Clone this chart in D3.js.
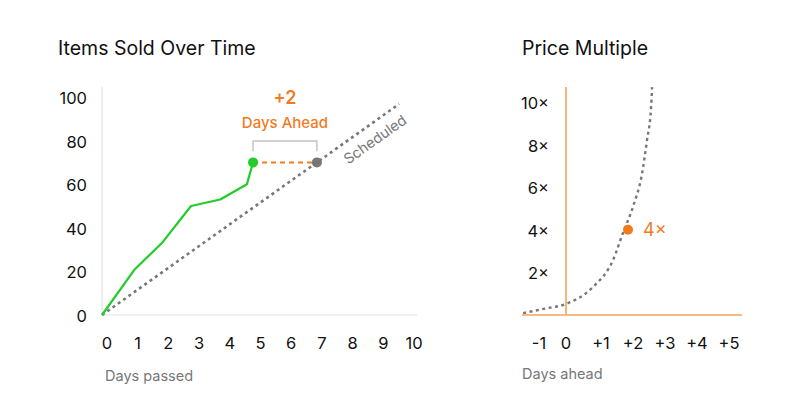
<!DOCTYPE html>
<html lang="en">
<head>
<meta charset="utf-8">
<title>Items Sold Over Time / Price Multiple</title>
<script src="https://cdn.jsdelivr.net/npm/d3@7"></script>
<style>
    body { margin: 0; background: #fff; font-family: Inter, "Noto Sans", sans-serif; }
    svg text { font-family: Inter, "Noto Sans", sans-serif; }
    .tick-label { font-size: 16.5px; fill: #111; }
    .axis-title { font-size: 14.5px; fill: #777; }
    .title { font-size: 19.5px; fill: #111; }
</style>
</head>
<body>
<svg id="chart" width="800" height="418"></svg>
<script>
    // ---- data ----
    var soldDays   = [0, 1.07, 1.95, 2.9, 3.85, 4.72, 4.92];
    var soldValues = [0, 21, 33, 50, 53, 60, 70];
    var schedDays   = [0, 9.68];
    var schedValues = [0, 96.8];
    var leftXTicks = [0, 1, 2, 3, 4, 5, 6, 7, 8, 9, 10];
    var leftYTicks = [0, 20, 40, 60, 80, 100];

    var curveDays  = [-1.34, -0.66, 0, 0.84, 1.47, 1.78, 2.09, 2.38, 2.53, 2.66, 2.69];
    var curveMult  = [0.09, 0.3, 0.52, 1.31, 2.58, 3.85, 5.07, 6.67, 8.2, 9.77, 10.7];
    var rightXTicks = [-1, 0, 1, 2, 3, 4, 5];
    var rightXLabels = ["-1", "0", "+1", "+2", "+3", "+4", "+5"];
    var rightYTicks = [2, 4, 6, 8, 10];

    var ahead = {from: 4.92, to: 7, value: 70, label: "+2"};
    var priceNow = {day: 2, mult: 4};

    var orange = "#f27b1f", green = "#22cc2b", grey = "#777";

    var svg = d3.select("#chart");

    // ================= left chart =================
    var x1 = d3.scaleLinear().domain([0, 10]).range([102, 409]);
    var y1 = d3.scaleLinear().domain([0, 100]).range([315, 97]);

    var left = svg.append("g");

    left.append("text").attr("class", "title")
        .attr("x", 58).attr("y", 55).text("Items Sold Over Time");

    // axis lines
    left.append("line").attr("x1", x1(0)).attr("x2", x1(0))
        .attr("y1", 87).attr("y2", y1(0))
        .attr("stroke", "#e2e2e2").attr("stroke-width", 1.2);
    left.append("line").attr("x1", x1(0)).attr("x2", 417)
        .attr("y1", y1(0)).attr("y2", y1(0))
        .attr("stroke", "#e2e2e2").attr("stroke-width", 1.2);

    left.append("g").selectAll("text")
        .data(leftYTicks).enter().append("text")
        .attr("class", "tick-label")
        .attr("x", 87).attr("y", function (d) { return y1(d) + 1; })
        .attr("dy", "0.36em").attr("text-anchor", "end")
        .text(function (d) { return d; });

    left.append("g").selectAll("text")
        .data(leftXTicks).enter().append("text")
        .attr("class", "tick-label")
        .attr("x", function (d) { return x1(d) + 5; }).attr("y", 343)
        .attr("dy", "0.36em").attr("text-anchor", "middle")
        .text(function (d) { return d; });

    left.append("text").attr("class", "axis-title")
        .attr("x", 105).attr("y", 381).text("Days passed");

    // scheduled dotted line
    var schedLine = d3.line()
        .x(function (d, i) { return x1(schedDays[i]); })
        .y(function (d) { return y1(d); });
    left.append("path").datum(schedValues)
        .attr("d", schedLine)
        .attr("fill", "none").attr("stroke", grey)
        .attr("stroke-width", 2.6).attr("stroke-dasharray", "3,3.5");

    var ang = Math.atan2(y1(0) - y1(10), x1(1) - x1(0)) * 180 / Math.PI;
    left.append("text")
        .attr("transform", "translate(" + (x1(8.6) + 9) + "," + (y1(86) + 12) + ") rotate(" + (-ang) + ")")
        .attr("text-anchor", "middle").attr("dy", "0.35em")
        .style("font-size", "14.5px").style("fill", grey)
        .text("Scheduled");

    // sold line
    var soldLine = d3.line()
        .x(function (d, i) { return x1(soldDays[i]); })
        .y(function (d) { return y1(d); });
    left.append("path").datum(soldValues)
        .attr("d", soldLine)
        .attr("fill", "none").attr("stroke", green)
        .attr("stroke-width", 2.2).attr("stroke-linejoin", "round");

    // ahead annotation
    left.append("line")
        .attr("x1", x1(ahead.from)).attr("x2", x1(ahead.to))
        .attr("y1", y1(ahead.value)).attr("y2", y1(ahead.value))
        .attr("stroke", orange).attr("stroke-width", 2)
        .attr("stroke-dasharray", "5,4");

    var bx0 = x1(ahead.from), bx1 = x1(ahead.to);
    left.append("path")
        .attr("d", "M" + bx0 + ",151V141H" + bx1 + "V151")
        .attr("fill", "none").attr("stroke", "#c4c4c4").attr("stroke-width", 1.5);

    left.append("circle").attr("cx", x1(ahead.from)).attr("cy", y1(ahead.value))
        .attr("r", 5).attr("fill", green);
    left.append("circle").attr("cx", x1(ahead.to)).attr("cy", y1(ahead.value))
        .attr("r", 5).attr("fill", grey);

    var midX = (bx0 + bx1) / 2;
    left.append("text").attr("x", midX).attr("y", 98).attr("dy", "0.36em")
        .attr("text-anchor", "middle")
        .style("font-size", "18px").style("font-weight", 600).style("fill", orange)
        .text(ahead.label);
    left.append("text").attr("x", midX).attr("y", 123).attr("dy", "0.36em")
        .attr("text-anchor", "middle")
        .style("font-size", "15px").style("font-weight", 500).style("fill", orange)
        .text("Days Ahead");

    // ================= right chart =================
    var x2 = d3.scaleLinear().domain([0, 5]).range([566, 726]);
    var y2 = d3.scaleLinear().domain([0, 10]).range([315, 102]);

    var right = svg.append("g");

    right.append("text").attr("class", "title")
        .attr("x", 522).attr("y", 55).text("Price Multiple");

    right.append("line").attr("x1", x2(0)).attr("x2", x2(0))
        .attr("y1", 87).attr("y2", y2(0))
        .attr("stroke", "#f3a45c").attr("stroke-width", 1.6);
    right.append("line").attr("x1", 522).attr("x2", 742)
        .attr("y1", y2(0)).attr("y2", y2(0))
        .attr("stroke", "#f3a45c").attr("stroke-width", 1.6);

    right.append("g").selectAll("text")
        .data(rightYTicks).enter().append("text")
        .attr("class", "tick-label")
        .attr("x", 549).attr("y", function (d) { return y2(d) + 1; })
        .attr("dy", "0.36em").attr("text-anchor", "end")
        .text(function (d) { return d + "×"; });

    right.append("g").selectAll("text")
        .data(rightXTicks).enter().append("text")
        .attr("class", "tick-label")
        .attr("x", function (d) { return x2(d) + (d < 0 ? 5 : d > 0 ? 3 : 0); }).attr("y", 343)
        .attr("dy", "0.36em").attr("text-anchor", "middle")
        .text(function (d, i) { return rightXLabels[i]; });

    right.append("text").attr("class", "axis-title")
        .attr("x", 522).attr("y", 379).text("Days ahead");

    var priceLine = d3.line()
        .x(function (d, i) { return x2(curveDays[i]); })
        .y(function (d) { return y2(d); })
        .curve(d3.curveMonotoneX);
    right.append("path").datum(curveMult)
        .attr("d", priceLine)
        .attr("fill", "none").attr("stroke", grey)
        .attr("stroke-width", 2.4).attr("stroke-dasharray", "3,3.5");

    right.append("circle").attr("cx", x2(priceNow.day) - 2).attr("cy", y2(priceNow.mult))
        .attr("r", 5).attr("fill", orange);
    right.append("text").attr("x", x2(priceNow.day) + 13).attr("y", y2(priceNow.mult))
        .attr("dy", "0.36em")
        .style("font-size", "18px").style("fill", orange)
        .text(priceNow.mult + "×");
</script>
</body>
</html>
